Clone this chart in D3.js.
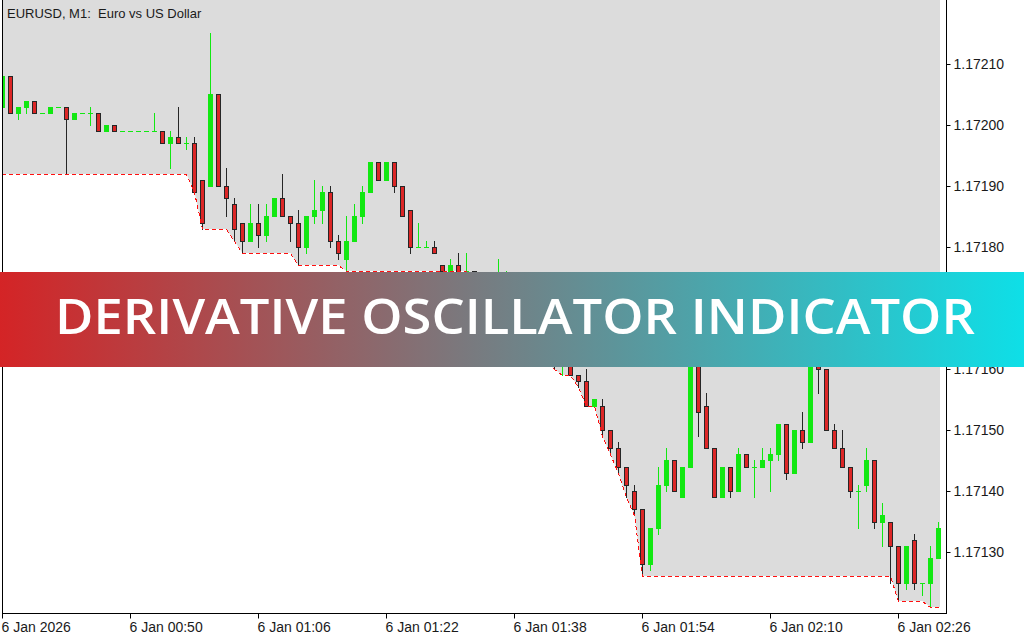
<!DOCTYPE html>
<html>
<head>
<meta charset="utf-8">
<script src="https://cdn.jsdelivr.net/npm/d3@7"></script>
<style>
  html, body { margin: 0; padding: 0; background: #fff; }
  svg { display: block; }
  .lbl { font-family: "Liberation Sans", Arial, sans-serif; font-size: 14px; fill: #1a1a1a; }
</style>
</head>
<body>
<svg id="chart" width="1024" height="640"></svg>
<script>
// EURUSD M1 candles, 118 bars (left to right)
var opens = [
  1.17203,1.17208,1.17202,1.17203,1.17204,1.17202,1.17202,1.17203,1.17203,1.17201,
  1.17202,1.17202,1.17202,1.17199,1.17200,1.17199,1.17199,1.17199,1.17199,1.17199,
  1.17199,1.17197,1.17198,1.17197,1.17197,1.17191,1.17190,1.17205,1.17190,1.17187,
  1.17184,1.17181,1.17184,1.17182,1.17185,1.17188,1.17185,1.17184,1.17180,1.17185,
  1.17186,1.17189,1.17181,1.17178,1.17181,1.17185,1.17189,1.17194,1.17191,1.17194,
  1.17190,1.17186,1.17180,1.17180,1.17180,1.17177,1.17176,1.17177,1.17176,1.17176,
  1.17174,1.17172,1.17173,1.17173,1.17174,1.17169,1.17166,1.17167,1.17164,1.17162,
  1.17161,1.17162,1.17159,1.17158,1.17154,1.17154,1.17150,1.17147,1.17144,1.17140,
  1.17137,1.17128,1.17134,1.17141,1.17145,1.17139,1.17144,1.17165,1.17154,1.17147,
  1.17139,1.17144,1.17140,1.17146,1.17144,1.17144,1.17145,1.17146,1.17151,1.17143,
  1.17150,1.17148,1.17163,1.17160,1.17150,1.17147,1.17144,1.17140,1.17141,1.17145,
  1.17135,1.17135,1.17131,1.17125,1.17132,1.17125,1.17125,1.17129
];
var highs = [
  1.17208,1.17208,1.17203,1.17204,1.17204,1.17202,1.17203,1.17203,1.17203,1.17202,
  1.17202,1.17203,1.17202,1.17200,1.17200,1.17199,1.17199,1.17199,1.17199,1.17202,
  1.17199,1.17199,1.17203,1.17198,1.17198,1.17191,1.17215,1.17205,1.17193,1.17188,
  1.17184,1.17187,1.17187,1.17187,1.17188,1.17192,1.17185,1.17186,1.17185,1.17191,
  1.17190,1.17190,1.17182,1.17185,1.17187,1.17190,1.17194,1.17194,1.17194,1.17194,
  1.17190,1.17186,1.17184,1.17181,1.17181,1.17177,1.17178,1.17179,1.17179,1.17176,
  1.17175,1.17174,1.17178,1.17176,1.17175,1.17170,1.17168,1.17168,1.17165,1.17163,
  1.17163,1.17163,1.17159,1.17160,1.17155,1.17155,1.17150,1.17148,1.17144,1.17141,
  1.17137,1.17134,1.17144,1.17147,1.17145,1.17144,1.17168,1.17166,1.17156,1.17147,
  1.17144,1.17144,1.17147,1.17146,1.17145,1.17147,1.17147,1.17151,1.17151,1.17150,
  1.17153,1.17164,1.17165,1.17160,1.17151,1.17150,1.17144,1.17141,1.17147,1.17145,
  1.17138,1.17135,1.17131,1.17131,1.17133,1.17125,1.17131,1.17135
];
var lows = [
  1.17203,1.17202,1.17201,1.17202,1.17202,1.17202,1.17202,1.17203,1.17192,1.17201,
  1.17202,1.17200,1.17199,1.17199,1.17199,1.17199,1.17199,1.17199,1.17199,1.17199,
  1.17197,1.17193,1.17197,1.17196,1.17189,1.17183,1.17190,1.17190,1.17185,1.17181,
  1.17179,1.17181,1.17180,1.17181,1.17185,1.17185,1.17181,1.17177,1.17179,1.17184,
  1.17184,1.17180,1.17178,1.17176,1.17181,1.17184,1.17189,1.17191,1.17191,1.17189,
  1.17185,1.17179,1.17180,1.17180,1.17179,1.17176,1.17176,1.17176,1.17176,1.17173,
  1.17171,1.17171,1.17172,1.17172,1.17168,1.17165,1.17165,1.17163,1.17161,1.17160,
  1.17159,1.17159,1.17157,1.17154,1.17154,1.17149,1.17146,1.17143,1.17139,1.17136,
  1.17126,1.17127,1.17133,1.17140,1.17140,1.17139,1.17144,1.17149,1.17147,1.17139,
  1.17139,1.17139,1.17140,1.17144,1.17139,1.17144,1.17140,1.17145,1.17142,1.17143,
  1.17147,1.17148,1.17156,1.17150,1.17147,1.17144,1.17139,1.17134,1.17140,1.17134,
  1.17131,1.17125,1.17122,1.17124,1.17124,1.17123,1.17121,1.17129
];
var closes = [
  1.17208,1.17202,1.17203,1.17204,1.17202,1.17202,1.17203,1.17203,1.17201,1.17202,
  1.17202,1.17202,1.17199,1.17200,1.17199,1.17199,1.17199,1.17199,1.17199,1.17199,
  1.17197,1.17198,1.17197,1.17197,1.17189,1.17184,1.17205,1.17190,1.17188,1.17183,
  1.17181,1.17184,1.17182,1.17185,1.17188,1.17185,1.17184,1.17180,1.17185,1.17186,
  1.17189,1.17181,1.17179,1.17181,1.17185,1.17189,1.17194,1.17191,1.17194,1.17190,
  1.17185,1.17180,1.17180,1.17180,1.17179,1.17176,1.17177,1.17176,1.17176,1.17174,
  1.17172,1.17173,1.17175,1.17174,1.17169,1.17166,1.17167,1.17164,1.17162,1.17161,
  1.17162,1.17159,1.17158,1.17154,1.17155,1.17150,1.17147,1.17144,1.17141,1.17137,
  1.17128,1.17134,1.17141,1.17145,1.17140,1.17144,1.17166,1.17153,1.17147,1.17139,
  1.17144,1.17140,1.17146,1.17144,1.17144,1.17145,1.17146,1.17151,1.17143,1.17150,
  1.17148,1.17163,1.17160,1.17150,1.17147,1.17144,1.17140,1.17140,1.17145,1.17135,
  1.17136,1.17131,1.17125,1.17131,1.17125,1.17125,1.17129,1.17134
];
// lower band of the indicator (red dotted line)
var lowerBand = [
  1.17192,1.17192,1.17192,1.17192,1.17192,1.17192,1.17192,1.17192,1.17192,1.17192,
  1.17192,1.17192,1.17192,1.17192,1.17192,1.17192,1.17192,1.17192,1.17192,1.17192,
  1.17192,1.17192,1.17192,1.17192,1.17189,1.17183,1.17183,1.17183,1.17183,1.17181,
  1.17179,1.17179,1.17179,1.17179,1.17179,1.17179,1.17179,1.17177,1.17177,1.17177,
  1.17177,1.17177,1.17177,1.17176,1.17176,1.17176,1.17176,1.17176,1.17176,1.17176,
  1.17176,1.17176,1.17176,1.17176,1.17176,1.17176,1.17176,1.17176,1.17176,1.17173,
  1.17171,1.17171,1.17171,1.17171,1.17168,1.17165,1.17165,1.17163,1.17161,1.17160,
  1.17159,1.17159,1.17157,1.17154,1.17154,1.17149,1.17146,1.17143,1.17139,1.17136,
  1.17126,1.17126,1.17126,1.17126,1.17126,1.17126,1.17126,1.17126,1.17126,1.17126,
  1.17126,1.17126,1.17126,1.17126,1.17126,1.17126,1.17126,1.17126,1.17126,1.17126,
  1.17126,1.17126,1.17126,1.17126,1.17126,1.17126,1.17126,1.17126,1.17126,1.17126,
  1.17126,1.17126,1.17122,1.17122,1.17122,1.17122,1.17121,1.17121
];
var priceTicks = [1.17130, 1.17140, 1.17150, 1.17160, 1.17170, 1.17180, 1.17190, 1.17200, 1.17210];
var timeTickIdx = [0, 16, 32, 48, 64, 80, 96, 112];
var timeTickLabels = ["6 Jan 2026", "6 Jan 00:50", "6 Jan 01:06", "6 Jan 01:22", "6 Jan 01:38", "6 Jan 01:54", "6 Jan 02:10", "6 Jan 02:26"];
var title = "EURUSD, M1:  Euro vs US Dollar";
var bannerText = "DERIVATIVE OSCILLATOR INDICATOR";

(function() {
  var svg = d3.select("#chart");
  var n = opens.length;
  var axisX = 946, axisY = 613;

  var x = d3.scaleLinear().domain([0, n - 1]).range([2, 938]);
  var y = d3.scaleLinear().domain([1.17130, 1.17210]).range([552, 64]);
  var px = function(i) { return Math.round(x(i)); };
  var py = function(v) { return Math.round(y(v)); };

  var defs = svg.append("defs");
  defs.append("clipPath").attr("id", "plotClip")
    .append("rect").attr("x", 3).attr("y", 0).attr("width", axisX - 3).attr("height", axisY);

  var grad = defs.append("linearGradient").attr("id", "bannerGrad")
    .attr("x1", "0%").attr("x2", "100%").attr("y1", "0%").attr("y2", "0%");
  grad.append("stop").attr("offset", "0%").attr("stop-color", "#d42426");
  grad.append("stop").attr("offset", "100%").attr("stop-color", "#0edfe7");

  svg.append("rect").attr("width", 1024).attr("height", 640).attr("fill", "#fff");

  var plot = svg.append("g").attr("clip-path", "url(#plotClip)");

  // grey zone above the lower band
  var pts = [[0, py(lowerBand[0])]];
  lowerBand.forEach(function(v, i) { pts.push([px(i) + 0.5, py(v)]); });
  pts.push([px(n - 1) + 2, py(lowerBand[n - 1])]);

  plot.append("path")
    .attr("d", d3.area().x(function(d) { return d[0]; }).y0(0).y1(function(d) { return d[1]; })(pts))
    .attr("fill", "#dcdcdc");

  // candles
  var green = "#12e812", red = "#dc2626", edge = "#262626";
  var bars = plot.append("g").attr("shape-rendering", "crispEdges");
  d3.range(n).forEach(function(i) {
    var cx = px(i);
    var bull = closes[i] >= opens[i];
    var bodyTop = py(Math.max(opens[i], closes[i]));
    var bodyBot = py(Math.min(opens[i], closes[i]));
    bars.append("line")
      .attr("x1", cx + 0.5).attr("x2", cx + 0.5)
      .attr("y1", py(highs[i])).attr("y2", py(lows[i]) + 1)
      .attr("stroke", bull ? green : edge).attr("stroke-width", 1);
    if (bull) {
      bars.append("rect")
        .attr("x", cx - 2).attr("y", bodyTop)
        .attr("width", 5).attr("height", bodyBot - bodyTop + 1)
        .attr("fill", green);
    } else {
      bars.append("rect")
        .attr("x", cx - 1.5).attr("y", bodyTop + 0.5)
        .attr("width", 4).attr("height", Math.max(1, bodyBot - bodyTop))
        .attr("fill", red).attr("stroke", edge).attr("stroke-width", 1);
    }
  });

  // red dotted lower band
  var linePts = pts.slice(1, pts.length - 1);
  linePts.unshift([2, py(lowerBand[0])]);
  plot.append("path")
    .attr("d", d3.line().x(function(d) { return d[0]; }).y(function(d) { return d[1] + 0.5; })(linePts))
    .attr("fill", "none").attr("stroke", "#ff1010").attr("stroke-width", 1)
    .attr("stroke-dasharray", "4,3").attr("shape-rendering", "crispEdges");

  // frame lines
  svg.append("line").attr("x1", 2.5).attr("x2", 2.5).attr("y1", 0).attr("y2", axisY + 1)
    .attr("stroke", "#000").attr("shape-rendering", "crispEdges");
  svg.append("line").attr("x1", axisX + 0.5).attr("x2", axisX + 0.5).attr("y1", 0).attr("y2", axisY + 1)
    .attr("stroke", "#000").attr("shape-rendering", "crispEdges");
  svg.append("line").attr("x1", 2).attr("x2", axisX + 1).attr("y1", axisY + 0.5).attr("y2", axisY + 0.5)
    .attr("stroke", "#000").attr("shape-rendering", "crispEdges");

  // price axis
  var yAxis = svg.append("g").attr("transform", "translate(" + (axisX + 0.5) + ",0)")
    .call(d3.axisRight(y).tickValues(priceTicks).tickFormat(d3.format(".5f")).tickSize(4).tickPadding(3));
  yAxis.select(".domain").remove();
  yAxis.selectAll("line").attr("stroke", "#000");
  yAxis.selectAll("text").attr("class", "lbl");
  yAxis.attr("font-size", null).attr("font-family", null);

  // time axis
  var xAxis = svg.append("g").attr("transform", "translate(0," + (axisY + 0.5) + ")")
    .call(d3.axisBottom(x).tickValues(timeTickIdx)
      .tickFormat(function(d, k) { return timeTickLabels[k]; }).tickSize(5).tickPadding(3));
  xAxis.select(".domain").remove();
  xAxis.selectAll("line").attr("stroke", "#000");
  xAxis.selectAll("text").attr("class", "lbl").attr("text-anchor", "start").attr("x", -1).attr("dy", "0.75em");
  xAxis.attr("font-size", null).attr("font-family", null);

  // chart title
  svg.append("text").attr("class", "lbl").attr("x", 7).attr("y", 18)
    .style("font-size", "13px").style("white-space", "pre").text(title);

  // banner
  svg.append("rect").attr("x", 0).attr("y", 272).attr("width", 1024).attr("height", 95)
    .attr("fill", "url(#bannerGrad)");
  svg.append("text").attr("x", 55).attr("y", 334)
    .attr("textLength", 920).attr("lengthAdjust", "spacingAndGlyphs")
    .style("font-family", "'Open Sans', 'Noto Sans', sans-serif")
    .style("font-size", "48px").style("font-weight", 600).attr("fill", "#fff")
    .text(bannerText);
})();
</script>
</body>
</html>
